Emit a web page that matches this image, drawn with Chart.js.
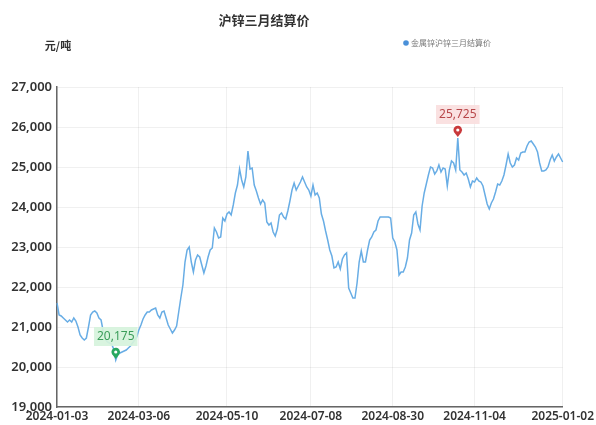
<!DOCTYPE html>
<html>
<head>
<meta charset="utf-8">
<script src="https://cdn.jsdelivr.net/npm/chart.js@4/dist/chart.umd.min.js"></script>
<style>
html,body{margin:0;padding:0;background:#fff;}
#wrap{width:596px;height:425px;position:relative;}
</style>
</head>
<body>
<div id="wrap"><canvas id="c" width="596" height="425"></canvas></div>
<script>
// Trading-day categories (SHFE calendar), by month
const monthKeys = ['2024-01','2024-02','2024-03','2024-04','2024-05','2024-06','2024-07','2024-08','2024-09','2024-10','2024-11','2024-12','2025-01'];
const monthDays = [
  [3,4,5,8,9,10,11,12,15,16,17,18,19,22,23,24,25,26,29,30,31],
  [1,2,5,6,7,8,19,20,21,22,23,26,27,28,29],
  [1,4,5,6,7,8,11,12,13,14,15,18,19,20,21,22,25,26,27,28,29],
  [1,2,3,8,9,10,11,12,15,16,17,18,19,22,23,24,25,26,29,30],
  [6,7,8,9,10,13,14,15,16,17,20,21,22,23,24,27,28,29,30,31],
  [3,4,5,6,7,11,12,13,14,17,18,19,20,21,24,25,26,27,28],
  [1,2,3,4,5,8,9,10,11,12,15,16,17,18,19,22,23,24,25,26,29,30,31],
  [1,2,5,6,7,8,9,12,13,14,15,16,19,20,21,22,23,26,27,28,29,30],
  [2,3,4,5,6,9,10,11,12,13,18,19,20,23,24,25,26,27,30],
  [8,9,10,11,14,15,16,17,18,21,22,23,24,25,28,29,30,31],
  [1,4,5,6,7,8,11,12,13,14,15,18,19,20,21,22,25,26,27,28,29],
  [2,3,4,5,6,9,10,11,12,13,16,17,18,19,20,23,24,25,26,27,30,31],
  [2]
];
const dates = [];
monthKeys.forEach((m, k) => monthDays[k].forEach(d => dates.push(m + '-' + String(d).padStart(2, '0'))));

// 金属锌沪锌三月结算价 (元/吨)
const prices = [
  21600,21300,21275,21225,21175,21125,21175,21125,21225,21150,
  21000,20800,20725,20675,20725,21000,21300,21375,21400,21350,
  21225,21175,20900,20700,20625,20600,20575,20450,20175,20325,
  20350,20375,20400,20425,20475,20525,20600,20675,20750,20925,
  21050,21200,21300,21375,21375,21425,21450,21475,21300,21225,
  21375,21400,21225,21050,20950,20850,20925,21025,21375,21725,
  22050,22625,22925,23000,22625,22375,22675,22800,22750,22550,
  22350,22525,22750,22925,22975,23475,23375,23225,23250,23725,
  23650,23825,23875,23800,24050,24350,24550,24950,24675,24500,
  24750,25400,24950,24975,24550,24400,24225,24075,24175,24100,
  23625,23550,23600,23375,23275,23450,23800,23850,23750,23700,
  23900,24150,24425,24600,24425,24525,24625,24750,24625,24500,
  24425,24275,24550,24300,24350,24225,23825,23650,23400,23175,
  22925,22775,22475,22500,22625,22450,22700,22800,22850,21975,
  21850,21725,21725,22100,22625,22900,22625,22625,22925,23175,
  23250,23375,23425,23650,23750,23750,23750,23750,23750,23725,
  23225,23125,22925,22300,22375,22375,22500,22725,23175,23350,
  23800,23875,23575,23425,24025,24350,24575,24800,25000,24975,
  24825,24900,25050,24875,24975,24950,24525,24925,25150,25100,
  24925,25725,24925,24875,24800,24850,24700,24500,24650,24625,
  24725,24650,24625,24525,24300,24075,23950,24100,24200,24375,
  24575,24550,24650,24800,25050,25325,25100,25000,25050,25225,
  25175,25350,25375,25375,25525,25625,25650,25575,25500,25375,
  25100,24900,24900,24925,25000,25175,25300,25150,25250,25325,
  25225,25125
];

const tickDates = ['2024-01-03','2024-03-06','2024-05-10','2024-07-08','2024-08-30','2024-11-04','2025-01-02'];
const yTicks = [19000,20000,21000,22000,23000,24000,25000,26000,27000];

const titleText = '沪锌三月结算价';
const unitText = '元/吨';
const seriesName = '金属锌沪锌三月结算价';

const FONT = "'Noto Sans','Noto Sans CJK SC',sans-serif";
const CJK = "'Noto Sans CJK SC','Noto Sans',sans-serif";
const LINE_COLOR = '#68ade5';

const decor = {
  id: 'decor',
  afterDraw(chart) {
    const ctx = chart.ctx;
    ctx.save();
    ctx.fillStyle = '#333';
    ctx.textAlign = 'center';
    ctx.textBaseline = 'middle';
    ctx.font = 'bold 13px ' + CJK;
    ctx.fillText(titleText, 264, 20);
    ctx.font = 'bold 11px ' + CJK;
    ctx.fillText(unitText, 58, 46);
    // legend
    ctx.fillStyle = '#4a90d9';
    ctx.beginPath();
    ctx.arc(406, 43, 2.8, 0, Math.PI * 2);
    ctx.fill();
    ctx.fillStyle = '#777';
    ctx.font = '8px ' + CJK;
    ctx.textAlign = 'left';
    ctx.fillText(seriesName, 411, 43);
    ctx.restore();
  },
  afterDatasetsDraw(chart) {
    const ctx = chart.ctx;
    const xs = chart.scales.x, ys = chart.scales.y;
    const data = chart.data.datasets[0].data;
    let maxI = 0, minI = 0;
    data.forEach((v, i) => { if (v > data[maxI]) maxI = i; if (v < data[minI]) minI = i; });
    const marks = [
      { i: maxI, pin: '#c9393b', text: '#b8474a', bg: 'rgba(250,222,222,0.9)' },
      { i: minI, pin: '#27a860', text: '#3b9d5a', bg: 'rgba(214,243,220,0.92)' }
    ];
    ctx.save();
    marks.forEach(m => {
      const v = data[m.i];
      const px = xs.getPixelForValue(m.i);
      const py = ys.getPixelForValue(v);
      const label = v.toLocaleString('en-US');
      ctx.font = '12px ' + FONT;
      const w = ctx.measureText(label).width + 6;
      const cy = py - 24;
      ctx.fillStyle = m.bg;
      ctx.fillRect(px - w / 2, cy - 9, w, 19);
      ctx.fillStyle = m.text;
      ctx.textAlign = 'center';
      ctx.textBaseline = 'middle';
      ctx.fillText(label, px, cy + 0.5);
      // pin
      const hy = py - 8;
      ctx.fillStyle = m.pin;
      ctx.beginPath();
      ctx.arc(px, hy, 4.3, Math.PI * 0.8, Math.PI * 2.2);
      ctx.lineTo(px, py - 1);
      ctx.closePath();
      ctx.fill();
      ctx.fillStyle = '#fff';
      ctx.beginPath();
      ctx.arc(px, hy, 1.6, 0, Math.PI * 2);
      ctx.fill();
    });
    ctx.restore();
  }
};

new Chart(document.getElementById('c'), {
  type: 'line',
  data: {
    labels: dates,
    datasets: [{
      label: seriesName,
      data: prices,
      borderColor: LINE_COLOR,
      borderWidth: 1.5,
      pointRadius: 0,
      pointHoverRadius: 0,
      tension: 0,
      fill: false
    }]
  },
  options: {
    responsive: false,
    animation: false,
    devicePixelRatio: 1,
    layout: { padding: { top: 87, right: 33, bottom: 0, left: 0 } },
    plugins: { legend: { display: false }, title: { display: false }, tooltip: { enabled: false } },
    scales: {
      x: {
        type: 'category',
        offset: false,
        afterBuildTicks: (scale) => {
          scale.ticks = scale.ticks.filter(t => tickDates.includes(dates[t.value]));
        },
        afterFit: (scale) => { scale.height = 18; },
        ticks: {
          autoSkip: false, maxRotation: 0, minRotation: 0, padding: 2,
          color: '#333', font: { family: FONT, size: 12, weight: '600' }
        },
        grid: { color: 'rgba(0,0,0,0.06)', drawTicks: false, tickLength: 0 },
        border: { color: '#666', width: 1.5 }
      },
      y: {
        min: 19000, max: 27000,
        afterBuildTicks: (scale) => { scale.ticks = yTicks.map(v => ({ value: v })); },
        afterFit: (scale) => { scale.width = 57; },
        ticks: {
          padding: 5, color: '#333',
          font: { family: FONT, size: 13, weight: '600' },
          callback: (v) => Number(v).toLocaleString('en-US')
        },
        grid: { color: 'rgba(0,0,0,0.06)', drawTicks: false, tickLength: 0 },
        border: { color: '#666', width: 1.5 }
      }
    }
  },
  plugins: [decor]
});
</script>
</body>
</html>
